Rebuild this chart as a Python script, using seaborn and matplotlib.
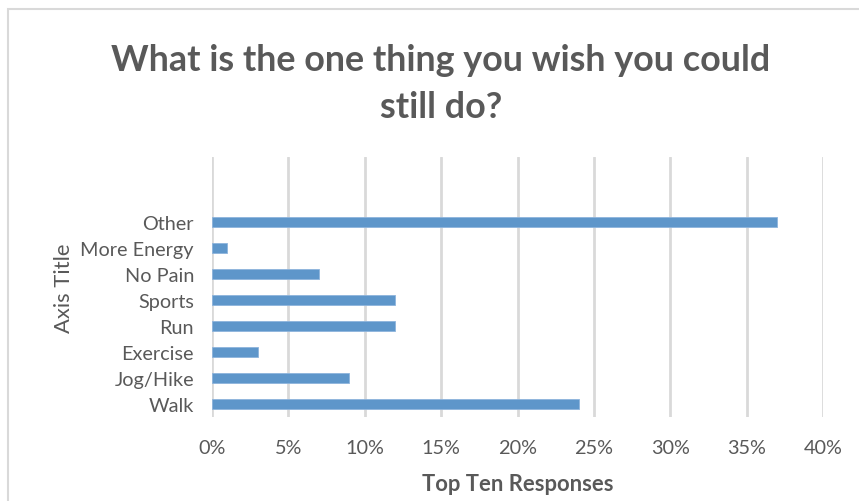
import matplotlib
matplotlib.use("Agg")
import matplotlib.pyplot as plt
import seaborn as sns
import pandas as pd
from matplotlib.patches import Rectangle
from matplotlib.ticker import FuncFormatter

categories = ["Other", "More Energy", "No Pain", "Sports", "Run", "Exercise", "Jog/Hike", "Walk"]
values = [37, 1, 7, 12, 12, 3, 9, 24]
x_ticks = [0, 5, 10, 15, 20, 25, 30, 35, 40]

title = "What is the one thing you wish you could\nstill do?"
x_title = "Top Ten Responses"
y_title = "Axis Title"

sns.set_theme(style="white")
plt.rcParams['font.family'] = ['Lato', 'DejaVu Sans']

txt = "#595959"
grid = "#d9d9d9"
bar_color = "#5E96CA"

df = pd.DataFrame({"cat": categories, "val": values})

fig = plt.figure(figsize=(8.59, 5.02), dpi=100)
fig.patches.append(Rectangle((8/859, -0.1), 1.2, (502-10)/502 + 0.1, transform=fig.transFigure,
                             fill=False, edgecolor="#d9d9d9", linewidth=1.5))
ax = fig.add_axes([212/859, 1-418/502, (823-212)/859, (418-158)/502])

sns.barplot(data=df, x="val", y="cat", order=categories, color=bar_color, width=0.4,
            orient="h", ax=ax, saturation=1, edgecolor="#8db4dc", linewidth=0.6)

ax.set_xlim(0, 40)
ax.set_ylim(7.5, -2.5)
ax.set_xticks(x_ticks)
ax.xaxis.set_major_formatter(FuncFormatter(lambda v, p: f"{int(round(v))}%"))
ax.grid(axis="x", color=grid, linewidth=2)
ax.grid(axis="y", visible=False)
ax.set_axisbelow(True)
for s in ax.spines.values():
    s.set_visible(False)
ax.tick_params(axis="both", length=0, labelsize=14.3, colors=txt)
ax.tick_params(axis="x", pad=16)
ax.tick_params(axis="y", pad=13)
ax.set_xlabel(x_title, fontsize=15.8, fontweight="bold", color=txt, labelpad=12)
ax.set_ylabel(y_title, fontsize=15.8, color=txt, labelpad=5)

fig.text(441/859, 1-84/502, title, ha="center", va="center", fontsize=25.8,
         fontweight="bold", color=txt, linespacing=1.5)

fig.savefig("out.png", dpi=100)
